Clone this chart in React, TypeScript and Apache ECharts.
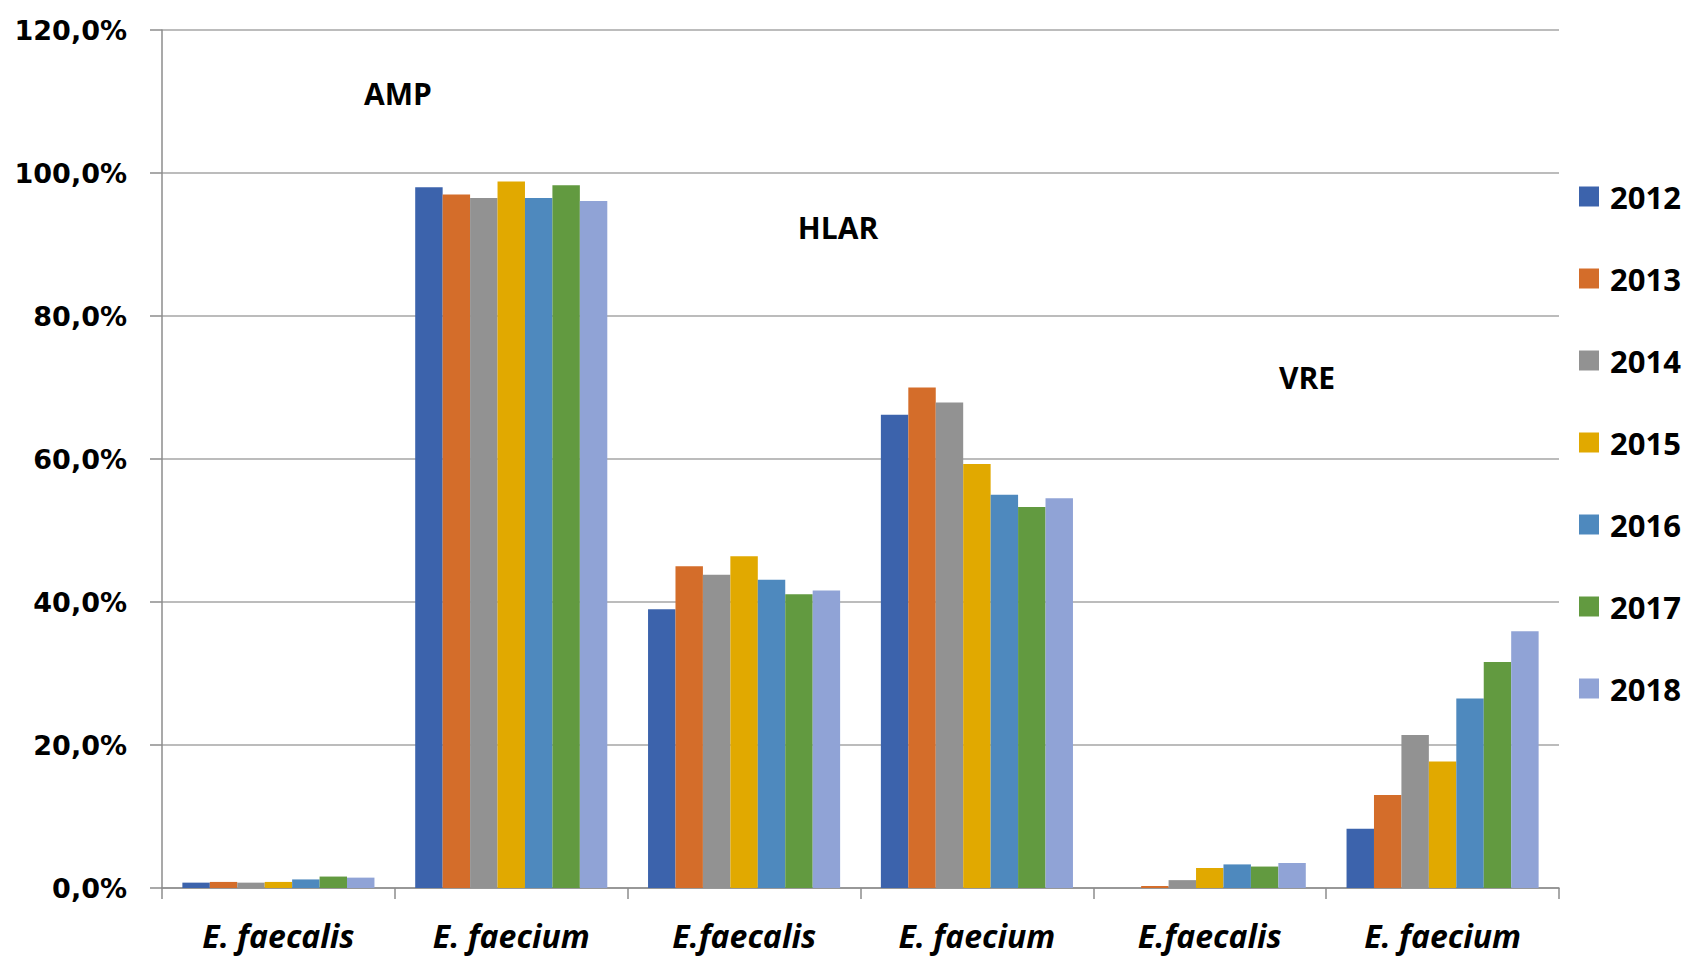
import React, { useEffect, useRef } from "react";
import * as echarts from "echarts";

const categories = ["E. faecalis", "E. faecium", "E.faecalis", "E. faecium", "E.faecalis", "E. faecium"];
const years = ["2012", "2013", "2014", "2015", "2016", "2017", "2018"];
const colors = ["#3C63AC", "#D46D2A", "#929292", "#E1A900", "#4E89BE", "#629A40", "#90A3D6"];

const s2012 = [0.75, 98.0, 39.0, 66.2, 0, 8.3];
const s2013 = [0.85, 97.0, 45.0, 70.0, 0.28, 13.0];
const s2014 = [0.75, 96.5, 43.8, 67.9, 1.1, 21.4];
const s2015 = [0.85, 98.8, 46.4, 59.3, 2.8, 17.7];
const s2016 = [1.2, 96.5, 43.1, 55.0, 3.3, 26.5];
const s2017 = [1.6, 98.3, 41.1, 53.3, 3.0, 31.6];
const s2018 = [1.45, 96.1, 41.6, 54.5, 3.5, 35.9];
const seriesValues = [s2012, s2013, s2014, s2015, s2016, s2017, s2018];

const groupLabels = ["AMP", "HLAR", "VRE"];
const yTicks = [0, 20, 40, 60, 80, 100, 120];

export default function App() {
  const ref = useRef<HTMLDivElement>(null);
  useEffect(() => {
    if (!ref.current) return;
    const chart = echarts.init(ref.current, undefined, { renderer: "svg" });
    const annoPos = [
      [398, 93],
      [838, 227],
      [1307, 377],
    ];
    chart.setOption({
      animation: false,
      grid: { left: 162, right: 130, top: 30, bottom: 69 },
      legend: {
        orient: "vertical",
        left: 1574,
        top: 176,
        itemWidth: 20,
        itemHeight: 20,
        itemGap: 51,
        icon: "rect",
        data: years,
        textStyle: {
          fontFamily: "Open Sans",
          fontWeight: "bold",
          fontSize: 31,
          lineHeight: 31,
          color: "#000",
          padding: [0, 0, 0, 6],
        },
      },
      xAxis: {
        type: "category",
        data: categories,
        axisLine: { lineStyle: { color: "#8c8c8c", width: 1.5 } },
        axisTick: { show: true, length: 11, lineStyle: { color: "#8c8c8c", width: 1.5 } },
        axisLabel: {
          fontFamily: "Open Sans",
          fontWeight: "bold",
          fontStyle: "italic",
          fontSize: 32,
          color: "#000",
          margin: 31,
        },
      },
      yAxis: {
        type: "value",
        min: 0,
        max: 120,
        interval: 20,
        axisLine: { show: true, lineStyle: { color: "#8c8c8c", width: 1.5 } },
        axisTick: { show: true, length: 12, lineStyle: { color: "#8c8c8c", width: 1.5 } },
        splitLine: { lineStyle: { color: "#a6a6a6", width: 1.5 } },
        axisLabel: {
          fontFamily: "DejaVu Sans",
          fontWeight: "bold",
          fontSize: 27,
          color: "#000",
          margin: 35,
          formatter: (v: number) => (yTicks.includes(v) ? v.toFixed(1).replace(".", ",") + "%" : ""),
        },
      },
      series: years.map((y, i) => ({
        name: y,
        type: "bar",
        data: seriesValues[i],
        barGap: "0%",
        barCategoryGap: "17.5%",
        itemStyle: { color: colors[i] },
      })),
      graphic: groupLabels.map((t, i) => ({
        type: "text",
        x: annoPos[i][0],
        y: annoPos[i][1],
        style: {
          text: t,
          fontFamily: "Open Sans",
          fontWeight: "bold",
          fontSize: 30,
          fill: "#000",
          align: "center",
          verticalAlign: "middle",
        },
      })),
    });
    return () => chart.dispose();
  }, []);
  return <div ref={ref} style={{ width: 1689, height: 957, position: "absolute", left: 0, top: 0 }} />;
}
